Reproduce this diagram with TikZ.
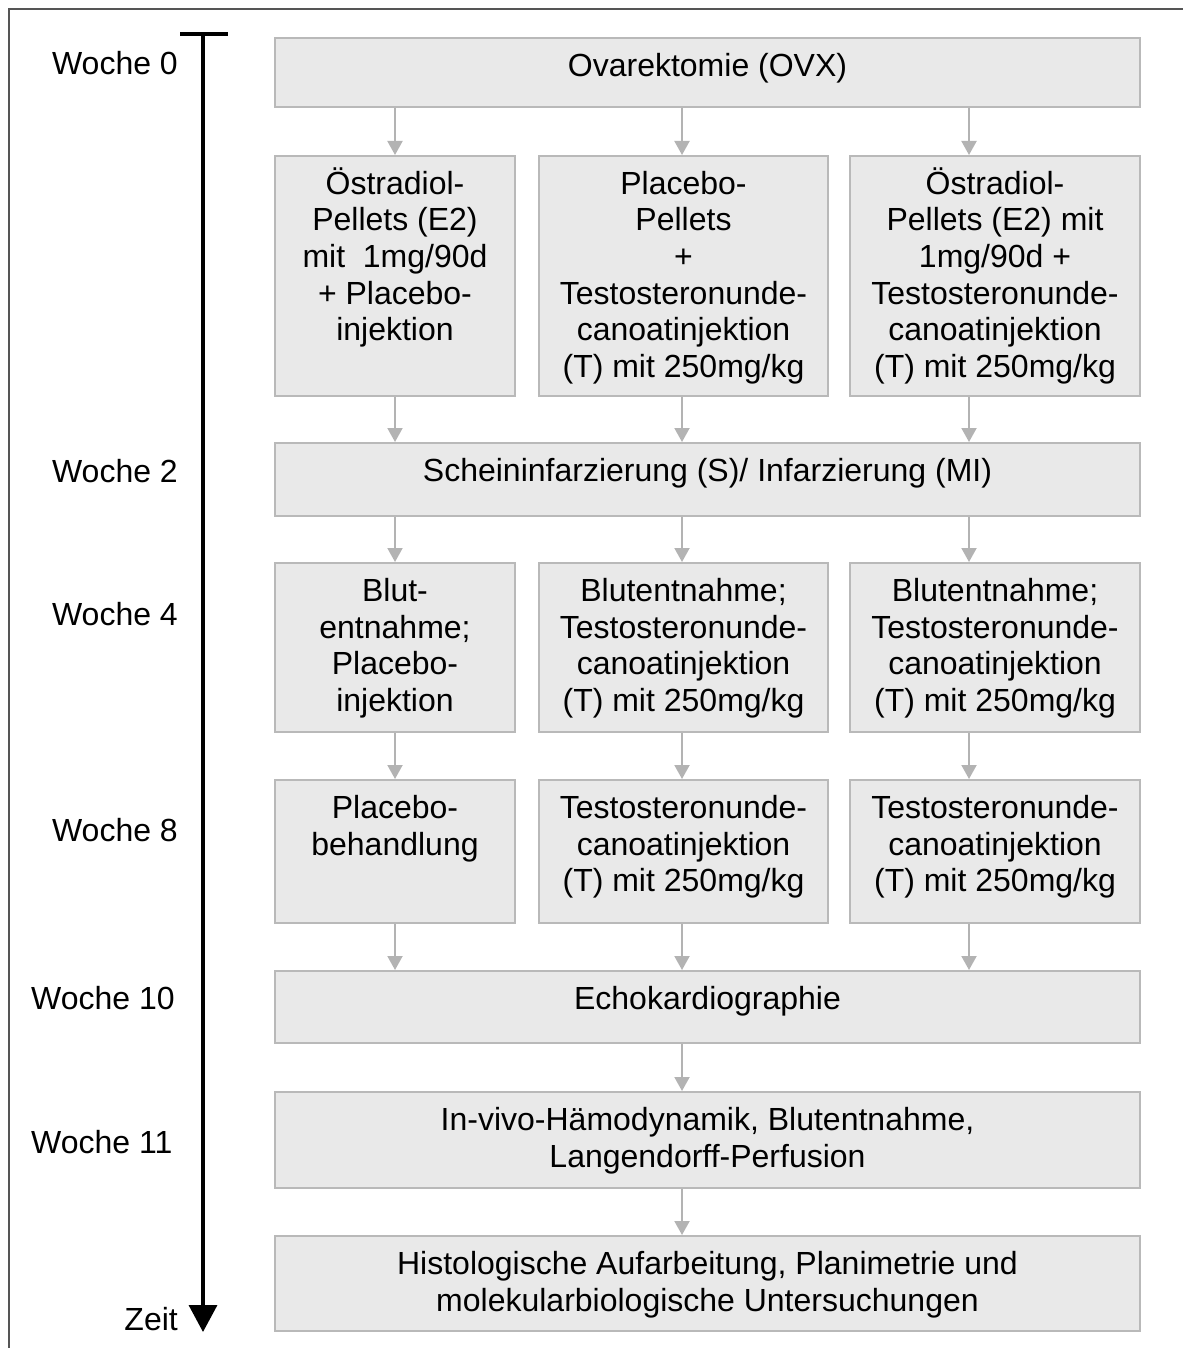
\documentclass[tikz,border=0pt]{standalone}
\usepackage{fontspec}
\setmainfont{Liberation Sans}
\usetikzlibrary{arrows.meta}
\definecolor{boxfill}{HTML}{E9E9E9}
\definecolor{boxline}{HTML}{B9B9B9}
\definecolor{arrgray}{HTML}{B3B3B3}
\definecolor{framecol}{HTML}{555555}
\newcommand\mkbox[6]{% name, x1, y1, x2, y2, text
  \pgfmathsetmacro\bw{#4-#2}\pgfmathsetmacro\bh{#5-#3}%
  \node[flowbox, minimum width=\bw pt, minimum height=\bh pt] (#1) at (#2,#3)
    {\parbox[c][\bh pt][t]{\bw pt}{\centering\rule{0pt}{38.5pt}#6}};}
\begin{document}
\begin{tikzpicture}[x=1pt,y=-1pt,
  flowbox/.style={rectangle, draw=boxline, fill=boxfill, line width=2pt, inner sep=0pt, anchor=north west,
    font=\fontsize{32}{36.5}\selectfont},
  flowarrow/.style={draw=arrgray, line width=2pt, -{Triangle[width=15pt,length=14pt]}},
  weeklabel/.style={inner sep=0pt, font=\fontsize{32}{36.5}\selectfont},
  timeline/.style={line width=3.5pt, black}]
\useasboundingbox (0,0) rectangle (1183,1348);
% frame
\draw[framecol, line width=2pt] (9,1348) -- (9,9.5) -- (1183,9.5);
% boxes
\mkbox{ovx}{274}{37}{1139}{106}{Ovarektomie (OVX)}
\mkbox{a1}{274}{155}{514}{395}{Östradiol-\\Pellets (E2)\\mit\ \ 1mg/90d\\+ Placebo-\\injektion}
\mkbox{a2}{538}{155}{827}{395}{Placebo-\\Pellets\\+\\Testosteronunde-\\canoatinjektion\\(T) mit 250mg/kg}
\mkbox{a3}{849}{155}{1139}{395}{Östradiol-\\Pellets (E2) mit\\1mg/90d +\\Testosteronunde-\\canoatinjektion\\(T) mit 250mg/kg}
\mkbox{mi}{274}{442}{1139}{515}{Scheininfarzierung (S)/ Infarzierung (MI)}
\mkbox{b1}{274}{562}{514}{731}{Blut-\\entnahme;\\Placebo-\\injektion}
\mkbox{b2}{538}{562}{827}{731}{Blutentnahme;\\Testosteronunde-\\canoatinjektion\\(T) mit 250mg/kg}
\mkbox{b3}{849}{562}{1139}{731}{Blutentnahme;\\Testosteronunde-\\canoatinjektion\\(T) mit 250mg/kg}
\mkbox{c1}{274}{779}{514}{922}{Placebo-\\behandlung}
\mkbox{c2}{538}{779}{827}{922}{Testosteronunde-\\canoatinjektion\\(T) mit 250mg/kg}
\mkbox{c3}{849}{779}{1139}{922}{Testosteronunde-\\canoatinjektion\\(T) mit 250mg/kg}
\mkbox{echo}{274}{970}{1139}{1042}{Echokardiographie}
\mkbox{hemo}{274}{1091}{1139}{1187}{In-vivo-Hämodynamik, Blutentnahme,\\Langendorff-Perfusion}
\mkbox{histo}{274}{1235}{1139}{1330}{Histologische Aufarbeitung, Planimetrie und\\molekularbiologische Untersuchungen}
% arrow columns
\coordinate (k1) at (395,0);
\coordinate (k2) at (682,0);
\coordinate (k3) at (969,0);
\foreach \k in {1,2,3}{
  \draw[flowarrow] (ovx.south -| k\k) -- (a1.north -| k\k);
  \draw[flowarrow] (a1.south -| k\k) -- (mi.north -| k\k);
  \draw[flowarrow] (mi.south -| k\k) -- (b1.north -| k\k);
  \draw[flowarrow] (b1.south -| k\k) -- (c1.north -| k\k);
  \draw[flowarrow] (c1.south -| k\k) -- (echo.north -| k\k);
}
\draw[flowarrow] (echo.south -| k2) -- (hemo.north -| k2);
\draw[flowarrow] (hemo.south -| k2) -- (histo.north -| k2);
% timeline
\coordinate (barL) at (180,34);
\coordinate (barR) at (228,34);
\coordinate (tTop) at (203,34);
\coordinate (tBot) at (203,1332);
\draw[timeline] (barL) -- (barR);
\draw[timeline, -{Triangle[width=28pt,length=27pt]}] (tTop) -- (tBot);
% week labels
\node[weeklabel, anchor=base east] (w0) at (178,74.5) {Woche 0};
\node[weeklabel, anchor=base east] (w2) at (178,482.5) {Woche 2};
\node[weeklabel, anchor=base east] (w4) at (178,625.5) {Woche 4};
\node[weeklabel, anchor=base east] (w8) at (178,841.5) {Woche 8};
\node[weeklabel, anchor=base west] (w10) at (31,1009.5) {Woche 10};
\node[weeklabel, anchor=base west] (w11) at (31,1153.5) {Woche 11};
\node[weeklabel, anchor=base east] (zeit) at (178,1330) {Zeit};
\end{tikzpicture}
\end{document}
